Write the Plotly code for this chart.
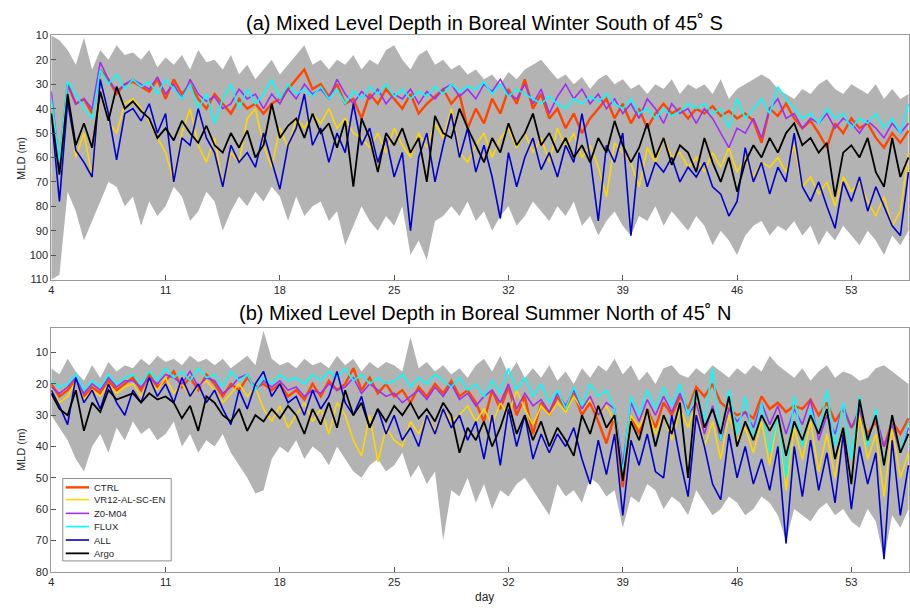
import plotly.graph_objects as go

# time grid (every half day)
days = [4 + 0.5 * i for i in range(106)]
tick_days = [4, 11, 18, 25, 32, 39, 46, 53]

# ---------------- Panel (a): Boreal Winter, South of 45S ----------------
a_ctrl = [40, 64, 30, 38, 36, 42, 24, 28, 34, 30,
          29, 31, 33, 28, 36, 28, 34, 30, 36, 40,
          34, 38, 42, 36, 40, 38, 42, 38, 36, 32,
          28, 24, 32, 30, 35, 30, 38, 36, 44, 34,
          38, 32, 36, 40, 34, 42, 38, 35, 32, 38,
          34, 48, 40, 46, 36, 42, 32, 38, 28, 40,
          34, 44, 40, 48, 42, 50, 44, 40, 36, 44,
          38, 46, 40, 48, 42, 38, 42, 40, 44, 40,
          42, 39, 43, 41, 44, 42, 45, 54, 40, 43,
          38, 44, 48, 45, 50, 56, 46, 50, 44, 48,
          46, 52, 56, 50, 54, 49]
a_vr12 = [40, 66, 36, 60, 50, 68, 32, 45, 50, 38,
          36, 40, 45, 52, 58, 70, 50, 40, 55, 62,
          52, 72, 58, 62, 44, 40, 55, 64, 48, 56,
          44, 48, 42, 46, 40, 48, 44, 50, 52, 56,
          50, 58, 48, 55, 60, 50, 56, 46, 52, 40,
          58, 62, 55, 50, 60, 52, 48, 56, 50, 58,
          52, 62, 48, 56, 50, 60, 55, 64, 76, 54,
          58, 62, 72, 56, 62, 52, 60, 58, 64, 60,
          66, 58, 64, 56, 66, 60, 68, 62, 64, 60,
          66, 55, 72, 68, 75, 70, 80, 68, 74, 70,
          78, 84, 76, 88, 82, 58]
a_z0 = [33, 64, 30, 38, 36, 40, 21, 28, 33, 30,
        28, 30, 32, 27, 34, 30, 36, 28, 34, 37,
        35, 40, 38, 32, 36, 34, 40, 34, 38, 32,
        36, 30, 34, 32, 36, 28, 34, 38, 33, 36,
        32, 38, 34, 36, 32, 38, 33, 36, 32, 30,
        35, 32, 36, 30, 33, 28, 34, 36, 30, 38,
        32, 42, 35, 30, 36, 32, 38, 34, 40, 36,
        42, 38, 44, 36, 40, 46, 38, 42, 40, 46,
        40, 44, 50, 56, 48, 50, 44, 52, 40, 36,
        44, 42, 48, 44, 46, 42, 48, 44, 46, 50,
        45, 48, 52, 46, 50, 46]
a_flux = [36, 62, 29, 34, 40, 44, 24, 30, 26, 32,
          28, 31, 29, 34, 28, 32, 36, 30, 40, 34,
          46, 36, 30, 40, 32, 38, 34, 28, 36, 30,
          34, 32, 35, 31, 36, 32, 38, 33, 36, 31,
          34, 30, 35, 32, 36, 33, 35, 31, 34, 30,
          33, 31, 32, 29, 34, 30, 35, 32, 34, 36,
          38, 35, 38, 40, 36, 38, 35, 37, 34, 38,
          40, 36, 42, 40, 44, 40, 43, 41, 38, 40,
          38, 42, 40, 48, 36, 44, 40, 36, 42, 31,
          36, 40, 44, 42, 46, 40, 44, 42, 48, 44,
          46, 42, 48, 44, 50, 38]
a_all = [42, 78, 37, 57, 62, 68, 28, 42, 61, 42,
         40, 45, 38, 50, 42, 70, 52, 55, 40, 52,
         58, 72, 55, 62, 58, 64, 50, 62, 73, 55,
         48, 34, 55, 48, 62, 50, 58, 38, 55, 48,
         62, 52, 68, 58, 90, 60, 50, 70, 55, 42,
         60, 48, 66, 55, 68, 85, 58, 72, 60, 52,
         65, 58, 68, 55, 62, 42, 60, 86, 55, 62,
         50, 92, 58, 72, 62, 66, 60, 70, 64, 68,
         62, 72, 75, 84, 78, 56, 70, 62, 75, 64,
         70, 50, 72, 78, 70, 80, 89, 70, 78, 68,
         82, 72, 80, 88, 92, 66]
a_argo = [42, 67, 34, 55, 46, 56, 33, 45, 31, 40,
          37, 41, 44, 52, 48, 53, 45, 50, 54, 47,
          55, 58, 50, 56, 49, 60, 55, 38, 52, 47,
          44, 52, 42, 50, 46, 56, 45, 72, 44, 52,
          66, 50, 55, 48, 58, 52, 70, 43, 50, 52,
          40, 48, 55, 62, 52, 58, 46, 55, 50, 42,
          55, 50, 58, 52, 60, 55, 62, 52, 58, 45,
          55, 62, 56, 46, 60, 52, 63, 55, 58, 66,
          52, 62, 70, 60, 74, 62, 55, 60, 52, 58,
          50, 46, 55, 52, 58, 54, 76, 58, 55, 60,
          52, 66, 72, 52, 68, 60]
a_band_top = [10, 12, 16, 22, 11, 24, 16, 20, 14, 18,
              17, 20, 16, 23, 19, 22, 18, 24, 16, 21,
              20, 24, 18, 26, 22, 28, 24, 20, 26, 22,
              18, 14, 22, 20, 24, 20, 22, 18, 24, 20,
              22, 16, 14, 20, 24, 18, 16, 22, 20, 24,
              22, 26, 24, 28, 26, 30, 25, 28, 24, 22,
              20, 24, 28, 26, 30, 27, 32, 28, 26, 30,
              28, 32, 30, 34, 30, 32, 28, 34, 30, 32,
              30, 34, 28, 36, 32, 30, 28, 26, 28, 32,
              34, 36, 32, 34, 30, 28, 32, 34, 30, 32,
              34, 30, 36, 32, 36, 34]
a_band_bot = [110, 108, 74, 82, 94, 86, 78, 70, 72, 80,
              76, 88, 78, 84, 80, 72, 76, 86, 82, 74,
              78, 90, 82, 76, 80, 74, 78, 72, 76, 86,
              76, 84, 80, 78, 86, 82, 96, 88, 80, 86,
              90, 84, 88, 80, 100, 94, 102, 86, 84, 80,
              84, 78, 86, 82, 90, 84, 80, 88, 84, 78,
              82, 86, 80, 84, 78, 88, 84, 92, 86, 82,
              88, 92, 84, 86, 80, 88, 82, 86, 90, 84,
              88, 96, 90, 94, 100, 92, 88, 86, 92, 88,
              90, 86, 92, 88, 96, 90, 94, 88, 92, 96,
              90, 94, 100, 92, 96, 90]

# ---------------- Panel (b): Boreal Summer, North of 45N ----------------
b_ctrl = [20, 24, 22, 19, 24, 21, 23, 19, 22, 20,
          18, 22, 17, 21, 19, 16, 21, 18, 22, 17,
          20, 24, 20, 22, 18, 21, 20, 22, 20, 24,
          22, 25, 20, 24, 19, 22, 20, 15, 22, 18,
          23, 20, 24, 22, 26, 21, 24, 20, 23, 19,
          24, 22, 26, 32, 22, 28, 21, 30, 24, 36,
          26, 30, 24, 28, 23, 30, 26, 32, 39, 30,
          53, 30, 36, 28, 34, 26, 30, 24, 28, 21,
          24, 20, 26, 28, 30, 29, 31, 24, 28, 26,
          29, 27, 28, 25, 30, 26, 32, 28, 34, 30,
          36, 32, 40, 32, 36, 31]
b_vr12 = [22, 26, 24, 19, 25, 22, 24, 20, 23, 21,
          20, 24, 19, 22, 18, 23, 20, 24, 21, 19,
          22, 26, 23, 20, 24, 21, 28, 32, 27, 34,
          30, 26, 32, 28, 36, 26, 30, 38, 43, 30,
          45, 34, 38, 40, 32, 36, 30, 35, 28, 32,
          30, 27, 32, 28, 33, 26, 30, 22, 28, 33,
          27, 30, 26, 29, 24, 28, 25, 30, 27, 32,
          46, 30, 34, 28, 36, 30, 38, 28, 34, 26,
          40, 32, 44, 30, 38, 34, 42, 32, 46, 30,
          54, 34, 44, 32, 48, 36, 50, 34, 52, 30,
          44, 36, 56, 34, 50, 42]
b_z0 = [21, 23, 21, 18, 23, 20, 22, 18, 21, 19,
        19, 21, 18, 20, 17, 18, 20, 16, 21, 18,
        19, 23, 21, 18, 17, 22, 19, 21, 19, 22,
        21, 24, 22, 23, 20, 22, 21, 18, 23, 20,
        22, 24, 23, 26, 24, 22, 25, 21, 24, 20,
        25, 23, 27, 24, 22, 26, 20, 28, 23, 27,
        25, 29, 23, 27, 22, 28, 24, 30, 26, 28,
        46, 26, 32, 25, 30, 24, 29, 23, 30, 26,
        36, 27, 38, 28, 32, 29, 34, 26, 33, 27,
        36, 28, 33, 25, 38, 30, 36, 27, 34, 28,
        38, 30, 40, 33, 42, 34]
b_flux = [19, 21, 20, 17, 22, 19, 21, 17, 20, 18,
          17, 20, 16, 19, 15, 18, 16, 19, 15, 18,
          17, 21, 16, 19, 17, 22, 18, 20, 17, 19,
          18, 20, 17, 19, 16, 18, 15, 19, 17, 20,
          18, 20, 19, 17, 21, 18, 20, 17, 19, 21,
          18, 22, 20, 24, 19, 23, 15, 22, 18, 24,
          20, 26, 22, 28, 21, 27, 20, 24, 22, 28,
          49, 24, 30, 22, 28, 21, 27, 20, 30, 22,
          32, 15, 38, 22, 36, 24, 38, 26, 42, 30,
          50, 24, 40, 28, 36, 22, 40, 26, 44, 24,
          40, 28, 46, 30, 42, 32]
b_all = [22, 27, 33, 18, 26, 22, 28, 20, 26, 30,
         22, 26, 18, 24, 20, 26, 18, 24, 20, 26,
         22, 28, 33, 22, 28, 20, 16, 24, 20, 26,
         24, 30, 22, 28, 24, 16, 26, 30, 24, 34,
         28, 36, 30, 38, 34, 40, 30, 36, 28, 34,
         30, 38, 32, 44, 30, 46, 28, 40, 30, 44,
         36, 42, 36, 40, 34, 44, 52, 38, 49, 36,
         62, 38, 46, 36, 48, 50, 30, 44, 56, 30,
         40, 52, 57, 36, 50, 40, 52, 44, 54, 40,
         71, 40, 56, 38, 54, 42, 58, 36, 60, 40,
         52, 42, 76, 38, 62, 46]
b_argo = [23, 28, 30, 22, 35, 26, 29, 22, 25, 24,
          23, 26, 23, 25, 24, 26, 31, 27, 35, 24,
          26, 30, 32, 28, 35, 30, 32, 28, 31, 27,
          30, 36, 28, 33, 26, 34, 22, 30, 26, 34,
          28, 32, 27, 30, 26, 31, 28, 32, 26, 30,
          42, 34, 38, 32, 40, 34, 26, 36, 30, 38,
          32, 40, 34, 38, 43, 30, 36, 27, 34, 30,
          51, 32, 38, 28, 40, 30, 36, 26, 50, 22,
          34, 28, 36, 24, 40, 32, 38, 30, 35, 30,
          43, 32, 38, 30, 36, 28, 44, 34, 52, 25,
          38, 30, 46, 30, 42, 36]
b_band_top = [15, 17, 12, 16, 19, 14, 18, 13, 16, 14,
              15, 12, 14, 11, 13, 12, 14, 11, 13, 12,
              14, 12, 15, 13, 11, 14, 3, 12, 14, 13,
              15, 12, 14, 13, 15, 11, 14, 12, 16, 13,
              15, 13, 14, 16, 5, 15, 13, 16, 14, 17,
              15, 18, 14, 12, 16, 11, 17, 13, 18, 15,
              18, 14, 19, 16, 20, 15, 18, 14, 16, 12,
              17, 14, 19, 16, 20, 15, 14, 17, 18, 15,
              17, 14, 16, 18, 15, 17, 14, 16, 11, 14,
              16, 18, 15, 19, 16, 14, 18, 16, 17, 19,
              18, 15, 14, 16, 18, 20]
b_band_bot = [30, 34, 38, 44, 48, 40, 36, 42, 34, 38,
              32, 36, 34, 38, 36, 32, 40, 36, 42, 38,
              40, 36, 42, 46, 50, 55, 54, 44, 40, 42,
              38, 44, 40, 42, 46, 40, 44, 48, 50, 46,
              44, 48, 46, 42, 50, 46, 52, 48, 70, 54,
              56, 50, 58, 52, 60, 54, 56, 52, 50, 54,
              58, 62, 52, 56, 54, 58, 50, 52, 56, 54,
              66, 56, 58, 52, 54, 60, 56, 58, 62, 54,
              58, 62, 60, 56, 58, 62, 60, 56, 58, 62,
              70, 60, 62, 64, 60, 58, 62, 60, 64, 66,
              60, 64, 76, 62, 66, 60]

names = ["CTRL", "VR12-AL-SC-EN", "Z0-M04", "FLUX", "ALL", "Argo"]
colors = ["#FF4500", "#FFD700", "#A030F0", "#00FFFF", "#0000CD", "#000000"]
widths = [2.4, 1.6, 1.6, 1.6, 1.6, 1.8]

a_series = [a_ctrl, a_vr12, a_z0, a_flux, a_all, a_argo]
b_series = [b_ctrl, b_vr12, b_z0, b_flux, b_all, b_argo]

fig = go.Figure()
band_color = "#B3B3B3"

def add_panel(series, top, bot, xa, ya):
    fig.add_trace(go.Scatter(
        x=days + days[::-1], y=top + bot[::-1], fill="toself",
        fillcolor=band_color, line=dict(width=0), mode="lines",
        hoverinfo="skip", showlegend=False, xaxis=xa, yaxis=ya))
    for nm, s, c, w in zip(names, series, colors, widths):
        fig.add_trace(go.Scatter(
            x=days, y=s, mode="lines", name=nm,
            line=dict(color=c, width=w), showlegend=False,
            xaxis=xa, yaxis=ya))

add_panel(a_series, a_band_top, a_band_bot, "x", "y")
add_panel(b_series, b_band_top, b_band_bot, "x2", "y2")

W, H = 910, 612
x0 = 48.5 / W
xr = [4, 4 + (W - 48.5) / 16.4]
font = "Liberation Sans, Arial, sans-serif"
axcol = "#999999"

def xax(anchor):
    return dict(domain=[x0, 1], range=xr, tickvals=tick_days,
                ticktext=[str(t) for t in tick_days], ticks="inside",
                ticklen=5, tickcolor="#555555", showline=True, mirror=True,
                linecolor=axcol, linewidth=1, showgrid=False, zeroline=False,
                tickfont=dict(size=11, color="#262626", family=font),
                anchor=anchor)

def yax(dom, rng, vals, anchor):
    return dict(domain=dom, range=rng, tickvals=vals, ticks="inside",
                ticklen=5, tickcolor="#555555", showline=True, mirror=True,
                linecolor=axcol, linewidth=1, showgrid=False, zeroline=False,
                tickfont=dict(size=11, color="#262626", family=font),
                anchor=anchor)

fig.update_layout(
    width=W, height=H, margin=dict(l=0, r=0, t=0, b=0),
    paper_bgcolor="white", plot_bgcolor="white",
    font=dict(family=font, color="#262626"),
    xaxis=xax("y"),
    yaxis=yax([1 - 279 / H, 1 - 30 / H], [110, 10], list(range(10, 111, 10)), "x"),
    xaxis2=xax("y2"),
    yaxis2=yax([1 - 577 / H, 1 - 328 / H], [80, 2], list(range(10, 81, 10)), "x2"),
    showlegend=False,
)

# compact MATLAB-style legend box drawn in paper coordinates
def px(x):
    return x / W

def py(y):
    return 1 - y / H

fig.add_shape(type="rect", xref="paper", yref="paper",
              x0=px(60), x1=px(169), y0=py(482), y1=py(566),
              line=dict(color="#8c8c8c", width=1), fillcolor="white", layer="above")
leg_rows = [491, 503.5, 517.5, 531, 544.7, 558.3]
for nm, c, w, yy in zip(names, colors, widths, leg_rows):
    fig.add_shape(type="line", xref="paper", yref="paper",
                  x0=px(63), x1=px(86.5), y0=py(yy), y1=py(yy),
                  line=dict(color=c, width=w), layer="above")
    fig.add_annotation(xref="paper", yref="paper", x=px(89), y=py(yy),
                       text=nm, showarrow=False, xanchor="left", yanchor="middle",
                       font=dict(size=9.5, color="#262626"))

ann = [
    dict(text="(a) Mixed Level Depth in Boreal Winter South of 45˚ S",
         x=484 / W, y=1 - 17 / H, font=dict(size=20, color="black")),
    dict(text="(b) Mixed Level Depth in Boreal Summer North of 45˚ N",
         x=484 / W, y=1 - 313 / H, font=dict(size=20, color="black")),
    dict(text="MLD (m)", x=18 / W, y=1 - 155 / H, textangle=-90,
         font=dict(size=11, color="#262626")),
    dict(text="MLD (m)", x=18 / W, y=1 - 452 / H, textangle=-90,
         font=dict(size=11, color="#262626")),
    dict(text="day", x=484 / W, y=1 - 603 / H, font=dict(size=12, color="#262626")),
]
for a in ann:
    fig.add_annotation(xref="paper", yref="paper", showarrow=False,
                       xanchor="center", yanchor="middle", **a)

fig.write_html("out.html")
